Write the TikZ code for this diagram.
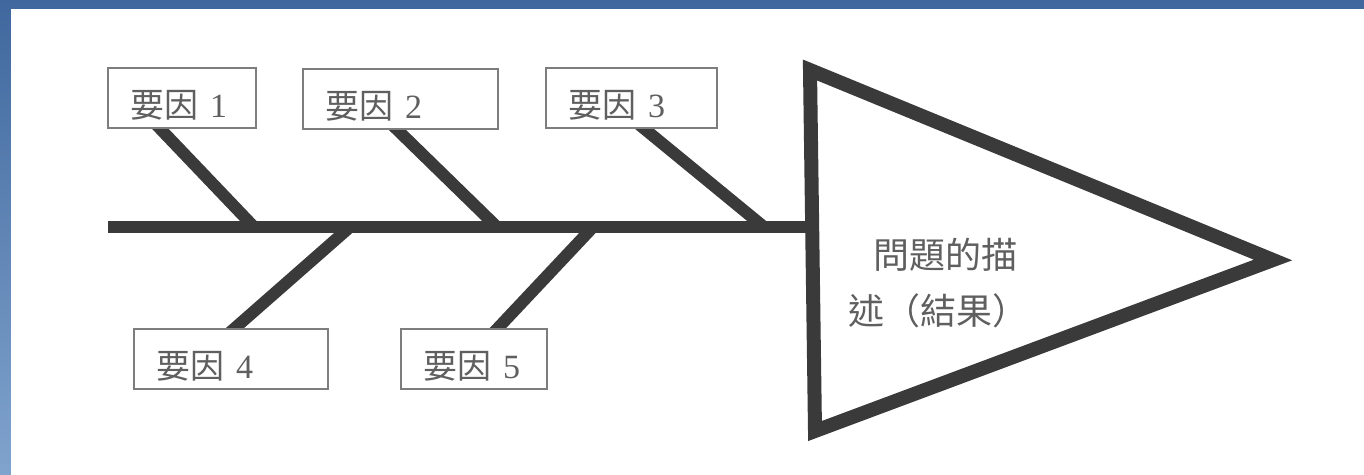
\documentclass[tikz,border=0pt]{standalone}
\usepackage{fontspec}
\setmainfont{Liberation Serif}
\newfontfamily\cjk{Noto Sans CJK TC}
\usetikzlibrary{calc, backgrounds}

\definecolor{framedark}{RGB}{64,104,158}
\definecolor{framelight}{RGB}{128,163,205}
\definecolor{boneclr}{RGB}{58,58,58}
\definecolor{boxline}{RGB}{125,125,125}
\definecolor{labelclr}{RGB}{95,95,95}

\begin{document}
\begin{tikzpicture}[
  x=1pt, y=-1pt,
  factor/.style={draw=boxline, fill=white, line width=1.5pt, anchor=north west,
    align=left, text width=#1, inner xsep=23pt, inner ysep=0pt,
    minimum height=60pt, text height=39pt, text depth=0pt,
    text=labelclr, font=\fontsize{34}{36}\selectfont},
  bone/.style ={draw=boneclr, line width=12pt},
  head/.style ={draw=boneclr, line width=14pt, line join=miter},
  result/.style={text=labelclr, align=left, inner sep=0pt, anchor=north west,
    font=\cjk\fontsize{36}{56}\selectfont},
]
\useasboundingbox (0,0) rectangle (1364,474);

% --- Boxes: causes above and below the spine ---
\node[factor=102pt] (f1) at (107,67)  {{\cjk 要因} 1};
\node[factor=149pt] (f2) at (302,68)  {{\cjk 要因} 2};
\node[factor=125pt] (f3) at (545,67)  {{\cjk 要因} 3};
\node[factor=148pt] (f4) at (133,328) {{\cjk 要因} 4};
\node[factor=100pt] (f5) at (400,328) {{\cjk 要因} 5};

% --- Spine and head (triangle) ---
\coordinate (tail) at (108,227);
\coordinate (neck) at (811,227);
\coordinate (htop) at (810,70);
\coordinate (htip) at (1273,260);
\coordinate (hbot) at (815,431);
\draw[head] (htop) -- (htip) -- (hbot) -- cycle;
\node[result] (res) at (848,238) {\hspace*{0.7em}問題的描\\述（結果）};

% junctions on the spine
\coordinate (j1) at (254,227);
\coordinate (j2) at (497,227);
\coordinate (j3) at (764,227);
\coordinate (j4) at (350,227);
\coordinate (j5) at (593,227);

\begin{scope}[on background layer]
  % frame
  \shade[top color=framedark, bottom color=framelight] (0,0) rectangle (1364,474);
  \fill[white] (11,9) rectangle (1380,490);
  \draw[bone] (tail) -- (neck);
  % bones, started inside the boxes so the box covers the cut end
  \draw[bone, shorten <=-8pt] ($(f1.south west)+(53,0)$) -- (j1);
  \draw[bone, shorten <=-8pt] ($(f2.south west)+(95,0)$) -- (j2);
  \draw[bone, shorten <=-8pt] ($(f3.south west)+(99,0)$) -- (j3);
  \draw[bone, shorten <=-8pt] ($(f4.north west)+(102,0)$) -- (j4);
  \draw[bone, shorten <=-8pt] ($(f5.north west)+(98,0)$) -- (j5);
\end{scope}
\end{tikzpicture}
\end{document}
